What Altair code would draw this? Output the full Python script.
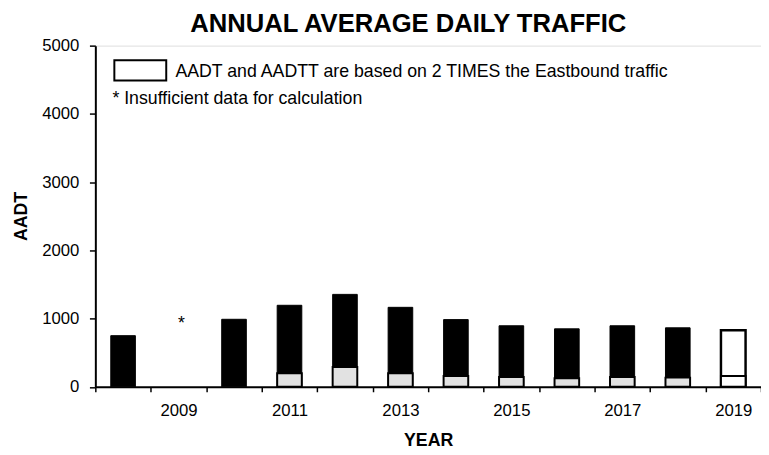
import altair as alt
import pandas as pd

# ---- data ----
years = ["2008", "2009", "2010", "2011", "2012", "2013",
         "2014", "2015", "2016", "2017", "2018", "2019"]
aadt = [750, None, 990, 1195, 1355, 1165, 985, 895, 850, 895, 865, 830]
aadtt = [None, None, None, 200, 290, 200, 160, 145, 125, 145, 135, 160]
one_direction_doubled = [False, False, False, False, False, False,
                         False, False, False, False, False, True]
missing_years = ["2009"]
missing_marker_level = [1000]
y_ticks = [0, 1000, 2000, 3000, 4000, 5000]

title_text = "ANNUAL AVERAGE DAILY TRAFFIC"
note_box_text = "AADT and AADTT are based on 2 TIMES the Eastbound traffic"
note_star_text = "* Insufficient data for calculation"

FONT = "Liberation Sans, Arial, Helvetica, sans-serif"

df = pd.DataFrame({"year": years, "aadt": aadt, "aadtt": aadtt,
                   "doubled": one_direction_doubled})
missing_df = pd.DataFrame({"year": missing_years, "level": missing_marker_level, "mark": ["*"]})

x_enc = alt.X(
    "year:O",
    scale=alt.Scale(domain=years, paddingInner=0, paddingOuter=0),
    axis=alt.Axis(
        tickBand="extent", tickSize=5, tickWidth=1.5, tickColor="black",
        domainColor="black", domainWidth=2,
        labelAngle=0, labelFont=FONT, labelFontSize=17, labelColor="black",
        labelPadding=11,
        labelExpr="toNumber(datum.value) % 2 == 1 ? datum.value : ''",
        title="YEAR", titleFont=FONT, titleFontSize=18, titleFontWeight="bold",
        titleColor="black", titleX=338, titleY=60, titleAlign="center",
        titleBaseline="alphabetic",
    ),
)

y_axis = alt.Axis(
    values=y_ticks, format="d", tickSize=6, tickWidth=1.5, tickColor="black",
    domainColor="black", domainWidth=2, grid=False,
    labelFont=FONT, labelFontSize=17, labelColor="black", labelPadding=10.7,
    title="AADT", titleFont=FONT, titleFontSize=18, titleFontWeight="bold",
    titleColor="black", titleAngle=270, titleX=-70, titleY=173,
    titleAlign="center", titleBaseline="alphabetic",
)
y_scale = alt.Scale(domain=[0, 5000], nice=False)

base = alt.Chart(df)

aadt_bars = base.transform_filter("isValid(datum.aadt)").mark_bar(size=25).encode(
    x=x_enc,
    y=alt.Y("aadt:Q", scale=y_scale, axis=y_axis),
    fill=alt.condition("datum.doubled", alt.value("white"), alt.value("black")),
    stroke=alt.value("black"),
    strokeWidth=alt.condition("datum.doubled", alt.value(2.5), alt.value(1)),
)

truck_bars = base.transform_filter("isValid(datum.aadtt)").mark_bar(size=25).encode(
    x=x_enc,
    y=alt.Y("aadtt:Q", scale=y_scale, axis=y_axis),
    fill=alt.condition("datum.doubled", alt.value("white"), alt.value("#e2e2e2")),
    stroke=alt.value("black"),
    strokeWidth=alt.value(2),
)

star = alt.Chart(missing_df).mark_text(
    font=FONT, fontSize=18, color="black", baseline="alphabetic", dy=11, dx=3
).encode(
    x=x_enc,
    y=alt.Y("level:Q", scale=y_scale, axis=y_axis),
    text="mark:N",
)

chart_title = alt.Chart(pd.DataFrame({"t": [title_text]})).mark_text(
    font=FONT, fontSize=26, fontWeight="bold", color="black",
    align="center", baseline="alphabetic"
).encode(x=alt.value(317.8), y=alt.value(-13.5), text="t:N")

note_box = alt.Chart(pd.DataFrame({"note": [note_box_text]})).mark_rect(
    fill="white", stroke="black", strokeWidth=2
).encode(
    x=alt.value(19.3), x2=alt.value(72), y=alt.value(14.9), y2=alt.value(35.5)
)

note_box_label = alt.Chart(pd.DataFrame({"note": [note_box_text]})).mark_text(
    font=FONT, fontSize=18, color="black", align="left", baseline="alphabetic"
).encode(x=alt.value(81.3), y=alt.value(31.5), text="note:N")

note_star_label = alt.Chart(pd.DataFrame({"note": [note_star_text]})).mark_text(
    font=FONT, fontSize=18, color="black", align="left", baseline="alphabetic"
).encode(x=alt.value(17.3), y=alt.value(59), text="note:N")

chart = alt.layer(
    aadt_bars, truck_bars, star, chart_title, note_box, note_box_label, note_star_label
).properties(
    width=676,
    height=346.5,
    autosize=alt.AutoSizeParams(type="none"),
    padding={"left": 88.7, "top": 34.8, "right": 0, "bottom": 60},
).configure_view(
    stroke="black", strokeWidth=2
).configure(
    background="white"
)

chart.save("out.html", embed_options={"renderer": "svg", "actions": False})
